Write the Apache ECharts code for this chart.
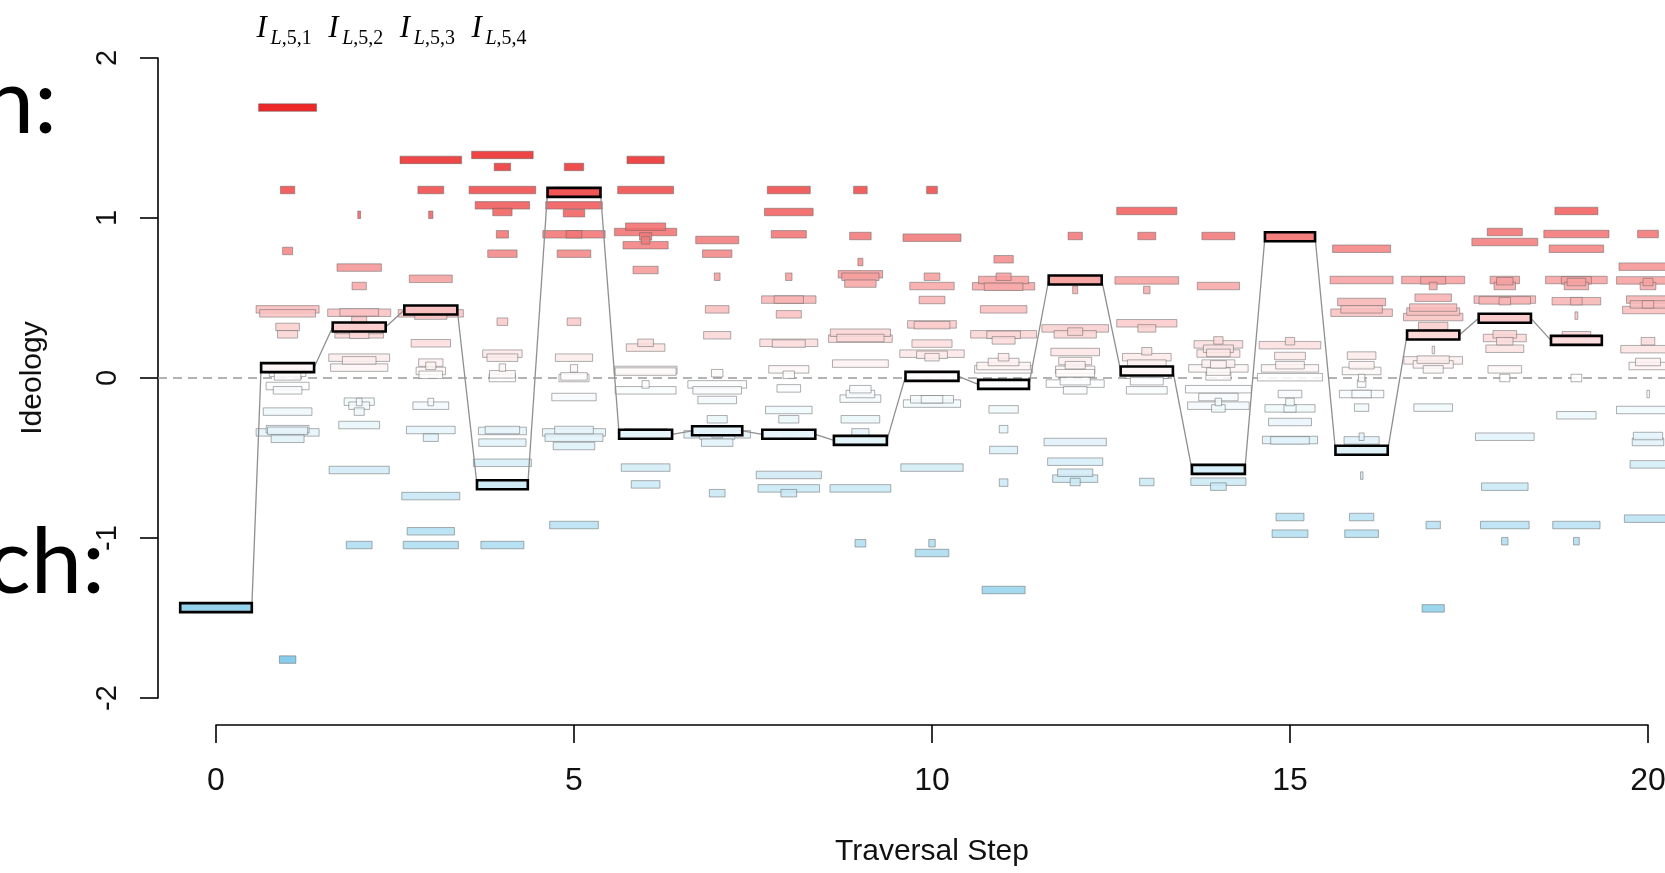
<!DOCTYPE html>
<html><head><meta charset="utf-8">
<script src="https://cdn.jsdelivr.net/npm/echarts@6/dist/echarts.min.js"></script>
<style>html,body{margin:0;padding:0;background:#fff}#c{width:1665px;height:873px}</style>
</head><body><div id="c"></div>
<script>
// ---------- data ----------
const xTicks = [0, 5, 10, 15, 20];
const yTicks = [-2, -1, 0, 1, 2];
const topLabelSteps = [1, 2, 3, 4];
const topLabelIndex = ['1', '2', '3', '4'];

// highlighted (traversed) bar per step 0..19
const pathValues = [-1.435, 0.065, 0.319, 0.425, -0.667, 1.16, -0.352, -0.33, -0.352, -0.39,
                    0.01, -0.04, 0.6125, 0.044, -0.571, 0.883, -0.452, 0.269, 0.373, 0.235];
const pathWidths = [1.0, 0.74, 0.74, 0.74, 0.71, 0.74, 0.74, 0.70, 0.74, 0.74,
                    0.74, 0.71, 0.74, 0.73, 0.74, 0.70, 0.73, 0.73, 0.73, 0.71];

// candidate bars per step: [ideology, width]
const bars1 = [[1.69,0.81],[1.175,0.2],[0.794,0.14],[0.429,0.88],[0.404,0.78],[0.319,0.33],[0.273,0.28],[0.033,0.51],[0.01,0.37],[-0.05,0.6],[-0.077,0.4],[-0.21,0.68],[-0.32,0.6],[-0.34,0.88],[-0.33,0.56],[-0.38,0.46],[-1.76,0.23]];
const bars2 = [[1.02,0.04],[0.69,0.62],[0.575,0.2],[0.408,0.88],[0.41,0.54],[0.36,0.21],[0.30,0.65],[0.273,0.68],[0.27,0.27],[0.127,0.85],[0.11,0.47],[0.065,0.8],[-0.148,0.42],[-0.15,0.08],[-0.173,0.29],[-0.21,0.14],[-0.294,0.57],[-0.575,0.84],[-1.044,0.36]];
const bars3 = [[1.363,0.86],[1.175,0.36],[1.02,0.06],[0.62,0.6],[0.404,0.91],[0.39,0.45],[0.217,0.55],[0.096,0.34],[0.076,0.14],[0.044,0.41],[0.02,0.33],[-0.15,0.08],[-0.173,0.5],[-0.325,0.68],[-0.373,0.21],[-0.738,0.81],[-0.958,0.66],[-1.044,0.77]];
const bars4 = [[1.394,0.86],[1.319,0.23],[1.175,0.93],[1.079,0.76],[1.0375,0.27],[0.898,0.17],[0.777,0.41],[0.352,0.15],[0.152,0.55],[0.127,0.43],[0.065,0.09],[0.023,0.36],[0.0,0.37],[-0.331,0.67],[-0.325,0.48],[-0.404,0.66],[-0.53,0.81],[-1.044,0.6]];
const bars5 = [[1.319,0.27],[1.079,0.79],[1.03,0.3],[0.898,0.87],[0.898,0.22],[0.777,0.47],[0.352,0.19],[0.127,0.52],[0.06,0.1],[0.01,0.37],[0.0,0.42],[-0.119,0.62],[-0.325,0.54],[-0.34,0.88],[-0.373,0.81],[-0.425,0.58],[-0.919,0.68]];
const bars6 = [[1.363,0.52],[1.175,0.78],[0.946,0.56],[0.9125,0.87],[0.885,0.17],[0.86,0.12],[0.83,0.63],[0.675,0.35],[0.22,0.22],[0.19,0.54],[0.05,0.88],[0.04,0.85],[-0.04,0.1],[-0.077,0.85],[-0.34,0.6],[-0.56,0.68],[-0.665,0.4]];
const bars7 = [[0.8625,0.6],[0.777,0.41],[0.633,0.08],[0.429,0.33],[0.267,0.38],[0.03,0.16],[-0.04,0.82],[-0.077,0.68],[-0.1375,0.54],[-0.258,0.28],[-0.352,0.93],[-0.36,0.49],[-0.35,0.15],[-0.404,0.44],[-0.72,0.22]];
const bars8 = [[1.175,0.6],[1.0375,0.68],[0.898,0.49],[0.633,0.09],[0.49,0.76],[0.49,0.41],[0.398,0.35],[0.22,0.81],[0.215,0.46],[0.054,0.56],[0.02,0.16],[-0.065,0.33],[-0.2,0.65],[-0.258,0.28],[-0.352,0.14],[-0.606,0.91],[-0.69,0.86],[-0.72,0.22]];
const bars9 = [[1.175,0.19],[0.8875,0.3],[0.725,0.07],[0.648,0.62],[0.633,0.52],[0.59,0.44],[0.283,0.84],[0.246,0.89],[0.25,0.66],[0.09,0.78],[-0.07,0.3],[-0.1,0.4],[-0.129,0.57],[-0.258,0.54],[-0.34,0.24],[-0.69,0.85],[-1.033,0.15]];
const bars10 = [[1.175,0.15],[0.877,0.81],[0.633,0.22],[0.575,0.62],[0.4875,0.36],[0.335,0.68],[0.33,0.5],[0.215,0.56],[0.152,0.9],[0.145,0.43],[0.13,0.2],[-0.133,0.3],[-0.133,0.6],[-0.16,0.8],[-0.56,0.87],[-1.033,0.09],[-1.094,0.47]];
const bars11 = [[0.742,0.27],[0.633,0.21],[0.6125,0.7],[0.573,0.87],[0.57,0.54],[0.429,0.65],[0.273,0.92],[0.27,0.47],[0.235,0.32],[0.13,0.15],[0.1,0.43],[0.075,0.75],[0.054,0.81],[-0.196,0.41],[-0.32,0.12],[-0.45,0.39],[-0.654,0.12],[-1.325,0.6]];
const bars12 = [[0.8875,0.2],[0.55,0.07],[0.31,0.93],[0.273,0.59],[0.29,0.21],[0.1625,0.68],[0.106,0.46],[0.08,0.28],[0.051,0.55],[0.03,0.54],[-0.02,0.42],[-0.035,0.81],[-0.077,0.33],[-0.4,0.87],[-0.523,0.77],[-0.592,0.49],[-0.629,0.63],[-0.65,0.14]];
const bars13 = [[1.044,0.84],[0.8875,0.25],[0.61,0.89],[0.55,0.09],[0.342,0.84],[0.31,0.25],[0.167,0.14],[0.13,0.68],[0.09,0.54],[0.02,0.6],[-0.02,0.46],[-0.077,0.57],[-0.65,0.2]];
const bars14 = [[0.8875,0.46],[0.575,0.59],[0.235,0.13],[0.21,0.68],[0.183,0.42],[0.153,0.6],[0.157,0.33],[0.09,0.46],[0.085,0.22],[0.06,0.83],[0.04,0.33],[0.01,0.35],[-0.07,0.92],[-0.119,0.55],[-0.15,0.09],[-0.173,0.86],[-0.19,0.19],[-0.648,0.77],[-0.679,0.22]];
const bars15 = [[0.23,0.13],[0.205,0.86],[0.1375,0.43],[0.08,0.4],[0.06,0.8],[0.005,0.91],[-0.1,0.33],[-0.15,0.12],[-0.19,0.7],[-0.19,0.17],[-0.275,0.6],[-0.3875,0.77],[-0.39,0.54],[-0.869,0.39],[-0.973,0.5]];
const bars16 = [[0.808,0.81],[0.6125,0.88],[0.475,0.67],[0.429,0.58],[0.408,0.86],[0.14,0.4],[0.08,0.35],[0.044,0.54],[0.0,0.09],[-0.035,0.12],[-0.1,0.62],[-0.1,0.27],[-0.185,0.2],[-0.367,0.07],[-0.39,0.49],[-0.61,0.03],[-0.869,0.34],[-0.973,0.47]];
const bars17 = [[0.6125,0.88],[0.61,0.35],[0.575,0.11],[0.502,0.51],[0.44,0.66],[0.415,0.74],[0.381,0.83],[0.325,0.41],[0.175,0.03],[0.11,0.82],[0.115,0.45],[0.085,0.56],[0.054,0.28],[-0.185,0.54],[-0.919,0.2],[-1.44,0.31]];
const bars18 = [[0.9125,0.49],[0.85,0.92],[0.6125,0.41],[0.605,0.23],[0.575,0.3],[0.49,0.86],[0.485,0.72],[0.48,0.16],[0.273,0.33],[0.25,0.6],[0.23,0.23],[0.183,0.53],[0.054,0.47],[0.0,0.14],[-0.367,0.82],[-0.679,0.65],[-0.919,0.68],[-1.02,0.09]];
const bars19 = [[1.044,0.6],[0.9,0.91],[0.808,0.76],[0.6125,0.86],[0.61,0.42],[0.6,0.26],[0.575,0.34],[0.48,0.68],[0.48,0.16],[0.39,0.04],[0.267,0.4],[0.23,0.28],[0.0,0.15],[-0.233,0.55],[-0.919,0.66],[-1.02,0.08]];
const bars20 = [[0.9,0.29],[0.696,0.81],[0.61,0.88],[0.6,0.14],[0.575,0.22],[0.49,0.6],[0.46,0.5],[0.425,0.71],[0.46,0.16],[0.23,0.19],[0.18,0.76],[0.1,0.35],[0.075,0.53],[-0.1,0.03],[-0.2,0.88],[-0.3625,0.41],[-0.4,0.44],[-0.54,0.5],[-0.879,0.66]];

const candidateSteps = [bars1,bars2,bars3,bars4,bars5,bars6,bars7,bars8,bars9,bars10,
                        bars11,bars12,bars13,bars14,bars15,bars16,bars17,bars18,bars19,bars20];

// ---------- build ----------
const candData = [];
candidateSteps.forEach((arr, i) => arr.forEach(b => candData.push([i + 1, b[0], b[1]])));
candData.sort((a, b) => b[2] - a[2]);
const pathData = pathValues.map((v, i) => [i, v, pathWidths[i]]);
const linkData = pathValues.slice(0, -1).map((v, i) => [i]);

function fillFor(v, a) {
  let r, g, b;
  if (v >= 0) { const t = Math.min(v / 1.6, 1); r = 255 - t * 22; g = 255 - t * 245; b = g; }
  else { const t = Math.min(-v / 1.8, 1); r = 255 - t * 140; g = 255 - t * 58; b = 255 - t * 25; }
  return 'rgba(' + Math.round(r) + ',' + Math.round(g) + ',' + Math.round(b) + ',' + a + ')';
}
function barRender(hl) {
  return function (params, api) {
    const s = api.value(0), v = api.value(1), w = api.value(2);
    const a = api.coord([s - w / 2, v]);
    const b = api.coord([s + w / 2, v]);
    const h = hl ? 9 : 7.5;
    return {
      type: 'rect',
      shape: { x: a[0], y: a[1] - h / 2, width: Math.max(b[0] - a[0], 2.5), height: h },
      style: { fill: fillFor(v, hl ? 0.95 : 0.88), stroke: hl ? '#000' : 'rgba(100,100,100,0.5)', lineWidth: hl ? 2.6 : 1 }
    };
  };
}
const SANS = "'Liberation Sans',Arial,sans-serif";
const SERIF = "'Liberation Serif','DejaVu Serif',serif";

const chart = echarts.init(document.getElementById('c'), null, { renderer: 'canvas' });
chart.setOption({
  backgroundColor: '#fff',
  animation: false,
  grid: { left: 216, right: 17, top: 58, bottom: 175, containLabel: false, outerBoundsMode: 'none' },
  xAxis: {
    type: 'value', min: xTicks[0], max: xTicks[xTicks.length - 1], interval: 5, offset: 27,
    axisLine: { show: true, onZero: false, lineStyle: { color: '#000', width: 1.6 } },
    axisTick: { show: true, length: 18, lineStyle: { color: '#000', width: 1.6 } },
    axisLabel: { margin: 40, fontSize: 32, color: '#111', fontFamily: SANS },
    splitLine: { show: false },
    name: 'Traversal Step', nameLocation: 'middle', nameGap: 112,
    nameTextStyle: { fontSize: 30, color: '#111', fontFamily: SANS }
  },
  yAxis: {
    type: 'value', min: yTicks[0], max: yTicks[yTicks.length - 1], interval: 1, offset: 58,
    axisLine: { show: true, onZero: false, lineStyle: { color: '#000', width: 1.6 } },
    axisTick: { show: true, length: 18, lineStyle: { color: '#000', width: 1.6 } },
    axisLabel: { rotate: 90, margin: 36, fontSize: 29, color: '#111', fontFamily: SANS },
    splitLine: { show: false },
    name: 'Ideology', nameLocation: 'middle', nameGap: 110,
    nameTextStyle: { fontSize: 30, color: '#111', fontFamily: SANS }
  },
  graphic: [
    { type: 'text', x: 57, y: 103, style: { text: 'n:', font: '92px Lato, "Open Sans", sans-serif', fill: '#000', align: 'right', verticalAlign: 'middle' } },
    { type: 'text', x: 105, y: 563, style: { text: 'ch:', font: '92px Lato, "Open Sans", sans-serif', fill: '#000', align: 'right', verticalAlign: 'middle' } }
  ],
  series: [
    { // zero reference line
      type: 'custom', clip: false, z: 1, silent: true, data: [[0]],
      renderItem: function (params, api) {
        const y = api.coord([0, 0])[1];
        const cs = params.coordSys;
        return { type: 'line', shape: { x1: cs.x - 58, y1: y, x2: cs.x + cs.width + 40, y2: y },
          style: { stroke: '#9a9a9a', lineWidth: 1.6, lineDash: [9, 6] } };
      }
    },
    { type: 'custom', clip: false, z: 2, silent: true, data: candData, renderItem: barRender(false) },
    { // connecting path
      type: 'custom', clip: false, z: 3, silent: true, data: linkData,
      renderItem: function (params, api) {
        const i = api.value(0);
        const p = api.coord([i + pathWidths[i] / 2, pathValues[i]]);
        const q = api.coord([i + 1 - pathWidths[i + 1] / 2, pathValues[i + 1]]);
        return { type: 'line', shape: { x1: p[0], y1: p[1], x2: q[0], y2: q[1] },
          style: { stroke: '#8f8f8f', lineWidth: 1.3 } };
      }
    },
    { type: 'custom', clip: false, z: 4, silent: true, data: pathData, renderItem: barRender(true) },
    { // top math labels
      type: 'custom', clip: false, z: 5, silent: true,
      data: topLabelSteps.map((s, i) => [s, i]),
      renderItem: function (params, api) {
        const s = api.value(0), k = topLabelIndex[api.value(1)];
        const p = api.coord([s, 2]);
        const left = p[0] - 31, base = p[1] - 14;
        return { type: 'group', children: [
          { type: 'text', x: left, y: base, style: { text: 'I', font: 'italic 31px ' + SERIF, fill: '#000', align: 'left', verticalAlign: 'bottom' } },
          { type: 'text', x: left + 14, y: base + 5, style: {
              text: '{a|L}{b|,5,' + k + '}', align: 'left', verticalAlign: 'bottom', fill: '#000',
              rich: { a: { fontStyle: 'italic', fontSize: 20, fontFamily: SERIF, fill: '#000' },
                      b: { fontSize: 20, fontFamily: SERIF, fill: '#000' } } } }
        ] };
      }
    }
  ]
});
</script></body></html>
